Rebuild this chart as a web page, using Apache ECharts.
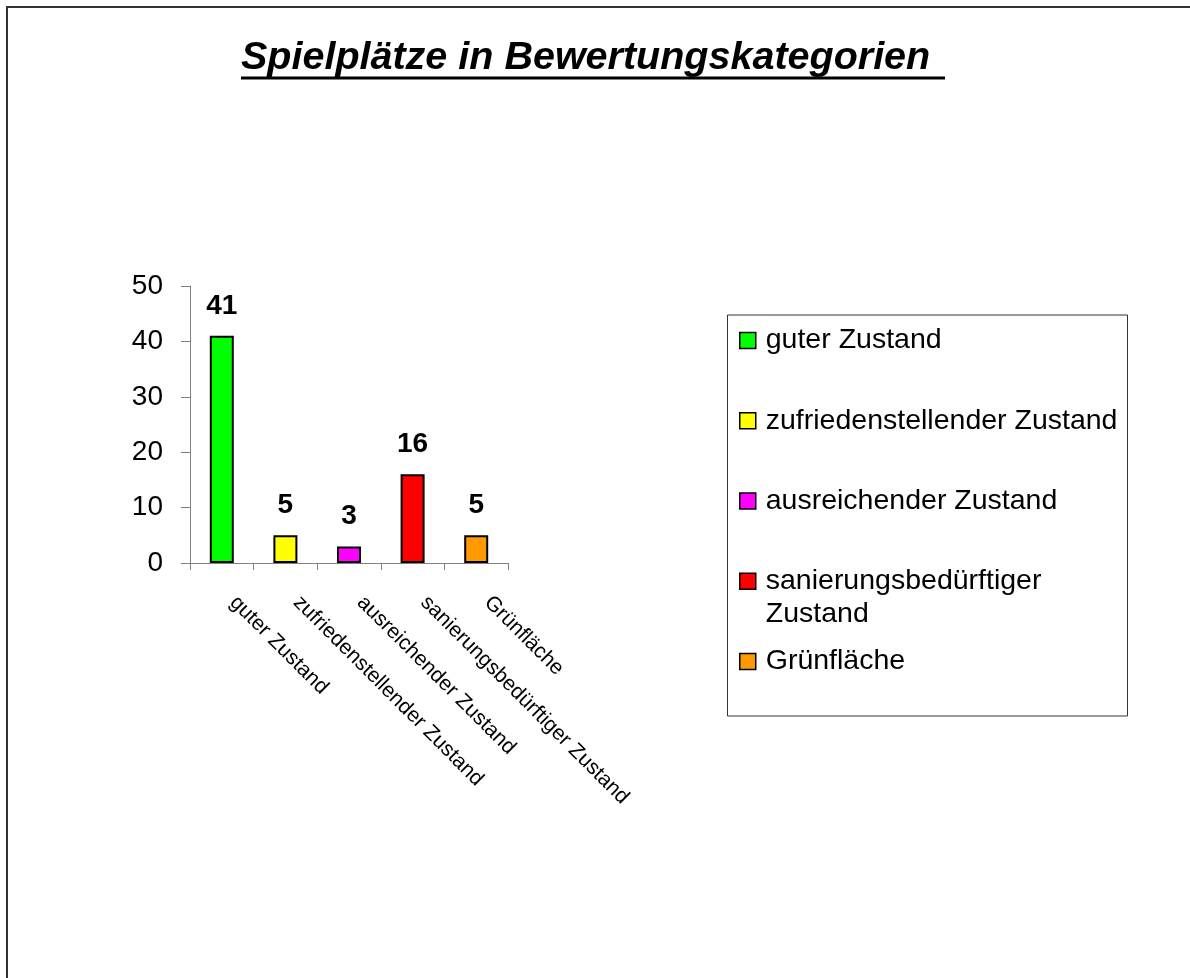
<!DOCTYPE html>
<html>
<head>
<meta charset="utf-8">
<title>Spielplätze in Bewertungskategorien</title>
<script src="https://cdn.jsdelivr.net/npm/echarts@6/dist/echarts.min.js"></script>
<style>
  html, body { margin: 0; padding: 0; background: #fff; }
  #barChart { width: 1190px; height: 978px; }
</style>
</head>
<body>
<div id="barChart"></div>
<script>
// data
const title = 'Spielplätze in Bewertungskategorien'
const categories = ['guter Zustand', 'zufriedenstellender Zustand', 'ausreichender Zustand', 'sanierungsbedürftiger Zustand', 'Grünfläche']
const legendLines = [['guter Zustand'], ['zufriedenstellender Zustand'], ['ausreichender Zustand'], ['sanierungsbedürftiger', 'Zustand'], ['Grünfläche']]
const values = [41, 5, 3, 16, 5]
const colors = ['#00ff00', '#ffff00', '#ff00ff', '#ff0000', '#ff9900']
const yTicks = [0, 10, 20, 30, 40, 50]

const font = '"Liberation Sans", Arial, sans-serif'
const legendRow = 33

// legend entries are placed one by one (one long name wraps onto two lines)
function legendItem(name, i) {
  const lines = legendLines[i]
  const extra = lines.length - 1
  return {
    data: [name],
    orient: 'vertical',
    left: 739,
    // an empty first line keeps the marker level with the first text line
    top: 332 + i * 80.25 - 8 - extra * legendRow,
    padding: 0,
    itemWidth: 16,
    itemHeight: 16,
    icon: 'rect',
    selectedMode: false,
    itemStyle: { borderColor: '#000', borderWidth: 1.5 },
    formatter: () => (extra ? ' \n' : '') + lines.join('\n'),
    textStyle: {
      fontFamily: font,
      fontSize: 28.5,
      color: '#000',
      lineHeight: legendRow,
      padding: [0, 0, 0, 5]
    }
  }
}

let myChart = echarts.init(document.getElementById('barChart'), null, { renderer: 'canvas' })
let options = {
  backgroundColor: '#fff',
  animation: false,
  title: {
    text: title,
    left: 241,
    top: 38,
    padding: 0,
    textStyle: {
      fontFamily: font,
      fontSize: 39.5,
      fontWeight: 'bold',
      fontStyle: 'italic',
      color: '#000',
      lineHeight: 40
    }
  },
  graphic: [
    // outer frame
    { type: 'rect', shape: { x: 7, y: 7, width: 1300, height: 1100 }, style: { fill: null, stroke: '#333', lineWidth: 2 }, silent: true },
    // title underline
    { type: 'line', shape: { x1: 241, y1: 78, x2: 945, y2: 78 }, style: { stroke: '#000', lineWidth: 3 }, silent: true },
    // legend frame
    { type: 'rect', shape: { x: 727.5, y: 315, width: 400, height: 401 }, style: { fill: null, stroke: '#333', lineWidth: 1 }, silent: true }
  ],
  legend: categories.map(legendItem),
  grid: { left: 190, top: 286, width: 318, height: 277 },
  xAxis: {
    type: 'category',
    data: categories,
    axisLine: { show: true, lineStyle: { color: '#808080', width: 1 } },
    axisTick: { show: true, length: 7, alignWithLabel: false, lineStyle: { color: '#808080' } },
    axisLabel: {
      interval: 0,
      rotate: -45,
      margin: 25,
      padding: [0, 0, 0, 16],
      fontFamily: font,
      fontSize: 21,
      color: '#000'
    },
    splitLine: { show: false }
  },
  yAxis: {
    type: 'value',
    min: yTicks[0],
    max: yTicks[yTicks.length - 1],
    interval: yTicks[1] - yTicks[0],
    axisLine: { show: true, lineStyle: { color: '#808080', width: 1 } },
    axisTick: { show: true, length: 9, lineStyle: { color: '#808080' } },
    axisLabel: { margin: 27, fontFamily: font, fontSize: 28, color: '#000' },
    splitLine: { show: false }
  },
  series: categories.map((name, i) => ({
    name: name,
    type: 'bar',
    stack: 'all',
    barWidth: 24,
    data: values.map((v, j) => (j === i ? v : '-')),
    itemStyle: { color: colors[i], borderColor: '#000', borderWidth: 2 },
    label: {
      show: true,
      position: 'top',
      distance: 16,
      fontFamily: font,
      fontSize: 28,
      fontWeight: 'bold',
      color: '#000',
      lineHeight: 28
    }
  }))
}
myChart.setOption(options)
</script>
</body>
</html>
